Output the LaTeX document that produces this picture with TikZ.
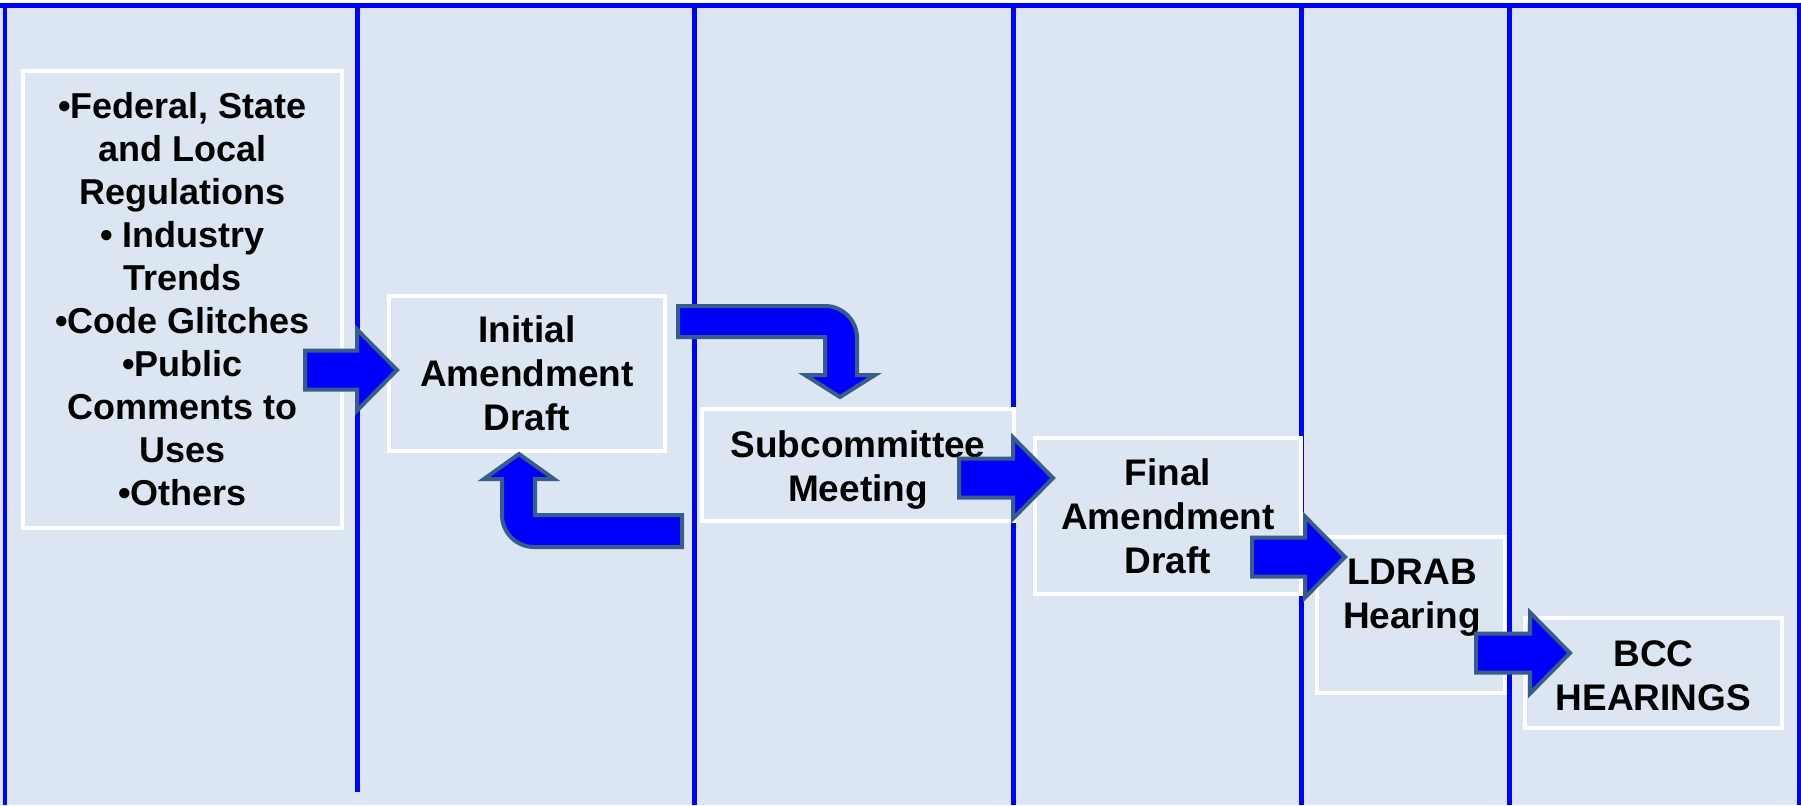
\documentclass[tikz,border=0pt]{standalone}
\usepackage{fontspec}
\setmainfont{Liberation Sans}
\usepackage{tikz}
\usetikzlibrary{calc}
\definecolor{mybg}{RGB}{220,230,242}
\definecolor{myblue}{RGB}{0,0,255}
\definecolor{myedge}{RGB}{56,93,138}
\tikzset{
  box/.style={rectangle, draw=white, fill=mybg, line width=2pt,
    align=center, inner sep=0pt, font=\fontsize{18.5}{22}\selectfont\bfseries},
  srcbox/.style={box, font=\fontsize{18}{21.5}\selectfont\bfseries},
  boxtext/.style={align=center, inner sep=0pt, font=\fontsize{18.5}{22}\selectfont\bfseries},
  lane/.style={myblue, line width=2.5pt},
  bigarrow/.style={fill=myblue, draw=myedge, line width=2pt}
}
% straight block arrow from tail coordinate to tip coordinate
\newcommand{\blockarrow}[2]{%
  \path[bigarrow] let \p1=(#1), \p2=(#2) in
    (\x1,\y1+9.75pt) -- (\x2-20pt,\y1+9.75pt) -- (\x2-20pt,\y1+20.25pt)
    -- (\x2,\y1) -- (\x2-20pt,\y1-20.25pt) -- (\x2-20pt,\y1-9.75pt)
    -- (\x1,\y1-9.75pt) -- cycle;}

\begin{document}
\begin{tikzpicture}[x=0.5pt, y=-0.5pt]
  \useasboundingbox (0,0) rectangle (1801,805);
  % Background
  \fill[white] (0,0) rectangle (1801,805);
  \fill[mybg] (0,3) rectangle (1801,805);

  % Lanes
  \draw[lane] (0,5.5) -- (1801,5.5);
  \draw[lane, line width=2pt] (5,3) -- (5,805);
  \draw[lane, line width=2pt] (1799,3) -- (1799,805);
  \draw[lane] (357.5,8) -- (357.5,792);
  \foreach \x in {694.5,1013,1301,1509}
    \draw[lane] (\x,8) -- (\x,805);

  % Boxes
  \node[srcbox, minimum width=159.5pt, minimum height=228.5pt] (src) at (182.5,299.5)
    {•Federal, State\\and Local\\Regulations\\• Industry\\Trends\\•Code Glitches\\•Public\\Comments to\\Uses\\•Others};
  \node[box, minimum width=138pt, minimum height=77.5pt] (init) at (527,373.5)
    {Initial\\Amendment\\Draft};
  \node[box, minimum width=156pt, minimum height=56pt] (sub) at (858,465) {};
  \node[boxtext] (subtxt) at (858,470) {Subcommittee\\Meeting};
  \node[box, minimum width=133pt, minimum height=78pt] (final) at (1168,516)
    {Final\\Amendment\\Draft};
  \node[box, minimum width=94pt, minimum height=78pt] (ldrab) at (1411,615) {};
  \node[boxtext] (ldrabtxt) at (1412,598) {LDRAB\\Hearing};
  \node[box, minimum width=128.5pt, minimum height=55pt] (bcc) at (1653.5,673) {};
  \node[boxtext] (bcctxt) at (1653.5,676) {BCC\\HEARINGS};

  % Arrow ends
  \coordinate (a1s) at (305,370);
  \coordinate (a1e) at (397,370);
  \coordinate (a4s) at (959,478);
  \coordinate (a4e) at (1053,478);
  \coordinate (a5s) at (1252,557);
  \coordinate (a5e) at (1345,557);
  \coordinate (a6s) at (1476,653);
  \coordinate (a6e) at (1570,653);

  % Straight arrows
  \blockarrow{a1s}{a1e}
  \blockarrow{a4s}{a4e}
  \blockarrow{a5s}{a5e}
  \blockarrow{a6s}{a6e}

  % Bent arrow to subcommittee
  \path[bigarrow] (678,306) -- (825,306) arc[start angle=90, end angle=0, radius=16pt]
    -- (857,375) -- (875,375) -- (840,397) -- (805,375) -- (825,375)
    -- (825,337) -- (678,337) -- cycle;
  % Bent arrow back to initial draft
  \path[bigarrow] (682,515) -- (535,515) -- (535,479) -- (554,479) -- (519,454)
    -- (484,479) -- (502,479) -- (502,515) arc[start angle=180, end angle=270, radius=16pt]
    -- (682,547) -- cycle;
\end{tikzpicture}
\end{document}
